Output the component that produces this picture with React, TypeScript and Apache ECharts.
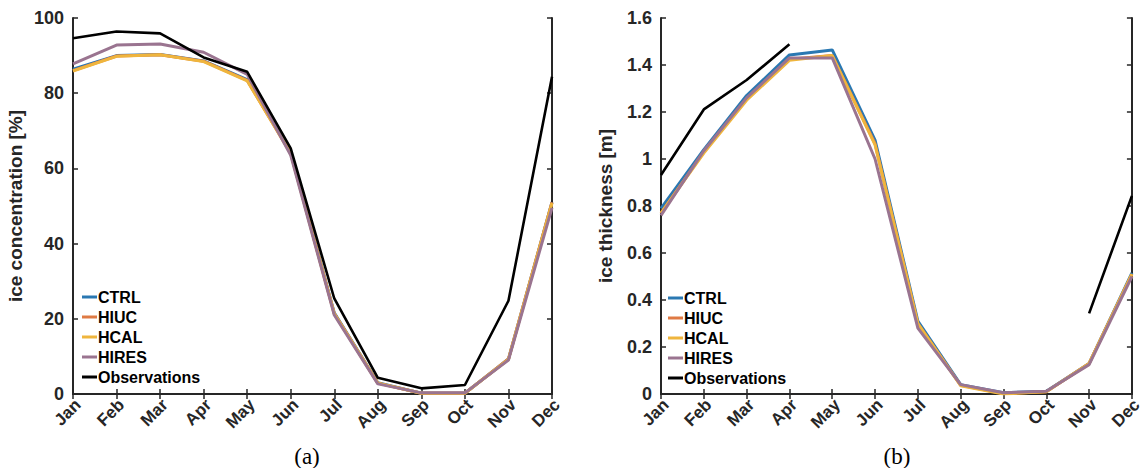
import React, { useEffect, useRef } from "react";
import * as echarts from "echarts";

const months = ["Jan", "Feb", "Mar", "Apr", "May", "Jun", "Jul", "Aug", "Sep", "Oct", "Nov", "Dec"];
const seriesNames = ["CTRL", "HIUC", "HCAL", "HIRES", "Observations"];
const seriesColors = ["#2a78b2", "#df7a44", "#efb53d", "#9a7490", "#000000"];

// (a) ice concentration [%]
const concCTRL = [86.4, 90.0, 90.3, 88.6, 83.6, 64.2, 21.6, 3.0, 0.2, 0.2, 9.3, 51.0];
const concHIUC = [86.0, 89.9, 90.2, 88.5, 83.4, 64.0, 21.4, 2.9, 0.2, 0.2, 9.3, 51.0];
const concHCAL = [85.9, 89.8, 90.2, 88.4, 83.3, 64.0, 21.3, 2.9, 0.2, 0.2, 9.2, 50.8];
const concHIRES = [87.8, 92.8, 93.1, 90.9, 85.0, 63.5, 21.0, 2.7, 0.3, 0.3, 9.0, 49.5];
const concObs = [94.6, 96.4, 95.9, 89.5, 85.7, 65.3, 25.4, 4.3, 1.5, 2.4, 24.8, 84.4];

// (b) ice thickness [m]
const thickCTRL = [0.79, 1.04, 1.27, 1.443, 1.464, 1.08, 0.31, 0.04, 0.005, 0.012, 0.13, 0.515];
const thickHIUC = [0.77, 1.03, 1.255, 1.425, 1.44, 1.065, 0.30, 0.037, 0.002, 0.01, 0.13, 0.51];
const thickHCAL = [0.77, 1.025, 1.25, 1.42, 1.44, 1.06, 0.30, 0.035, 0.0, 0.01, 0.13, 0.51];
const thickHIRES = [0.76, 1.035, 1.26, 1.43, 1.43, 1.0, 0.28, 0.04, 0.005, 0.012, 0.125, 0.50];
const thickObs = [0.932, 1.211, 1.336, 1.488, null, null, null, null, null, null, 0.343, 0.843];

const axisColor = "#262626";
const fontFamily = "Liberation Sans";

export default function App() {
  const ref = useRef<HTMLDivElement>(null);
  useEffect(() => {
    if (!ref.current) return;
    const chart = echarts.init(ref.current, null, { renderer: "svg" });

    const grids = [
      { left: 73, top: 18, width: 479, height: 376 },
      { left: 661, top: 18, width: 477, height: 376 },
    ];

    const xAxes: any[] = [];
    const yAxes: any[] = [];
    const yDefs = [
      { min: 0, max: 100, interval: 20, name: "ice concentration [%]", nameGap: 48 },
      { min: 0, max: 1.6, interval: 0.2, name: "ice thickness [m]", nameGap: 46 },
    ];
    [0, 1].forEach((g) => {
      xAxes.push({
        type: "category",
        gridIndex: g,
        data: months,
        boundaryGap: false,
        position: "bottom",
        axisLine: { lineStyle: { color: axisColor, width: 2 } },
        axisTick: { inside: true, length: 5, lineStyle: { color: axisColor, width: 1.5 }, alignWithLabel: true },
        axisLabel: {
          fontFamily,
          fontWeight: "bold",
          fontSize: 17,
          color: axisColor,
          rotate: 45,
          margin: 13,
          interval: 0,
          padding: [14, -7, 0, 0],
        },
        splitLine: { show: false },
      });
      xAxes.push({
        type: "category",
        gridIndex: g,
        data: months,
        boundaryGap: false,
        position: "top",
        axisLine: { lineStyle: { color: axisColor, width: 2 } },
        axisTick: { inside: true, length: 5, lineStyle: { color: axisColor, width: 1.5 } },
        axisLabel: { show: false },
        splitLine: { show: false },
      });
      const d = yDefs[g];
      yAxes.push({
        type: "value",
        gridIndex: g,
        min: d.min,
        max: d.max,
        interval: d.interval,
        position: "left",
        name: d.name,
        nameLocation: "middle",
        nameGap: d.nameGap,
        nameRotate: 90,
        nameTextStyle: { fontFamily, fontWeight: "bold", fontSize: 19, color: axisColor },
        axisLine: { show: true, lineStyle: { color: axisColor, width: 2 } },
        axisTick: { show: true, inside: true, length: 5, lineStyle: { color: axisColor, width: 1.5 } },
        axisLabel: { fontFamily, fontWeight: "bold", fontSize: 18, color: axisColor, margin: 9 },
        splitLine: { show: false },
      });
      yAxes.push({
        type: "value",
        gridIndex: g,
        min: d.min,
        max: d.max,
        interval: d.interval,
        position: "right",
        axisLine: { show: true, lineStyle: { color: axisColor, width: 2 } },
        axisTick: { show: true, inside: true, length: 5, lineStyle: { color: axisColor, width: 1.5 } },
        axisLabel: { show: false },
        splitLine: { show: false },
      });
    });

    const panelData = [
      [concCTRL, concHIUC, concHCAL, concHIRES, concObs],
      [thickCTRL, thickHIUC, thickHCAL, thickHIRES, thickObs],
    ];
    const series: any[] = [];
    [0, 1].forEach((g) => {
      panelData[g].forEach((vals, i) => {
        series.push({
          type: "line",
          name: seriesNames[i],
          xAxisIndex: g * 2,
          yAxisIndex: g * 2,
          data: vals,
          symbol: "none",
          connectNulls: false,
          lineStyle: { color: seriesColors[i], width: i === 4 ? 2.6 : 3 },
          itemStyle: { color: seriesColors[i] },
          z: 2 + i,
        });
      });
    });

    const legendBase = {
      orient: "vertical",
      icon: "rect",
      itemWidth: 15,
      itemHeight: 3,
      itemGap: 4,
      padding: 0,
      data: seriesNames,
      textStyle: { fontFamily, fontWeight: "bold", fontSize: 16, color: "#000", lineHeight: 16, padding: [0, 0, 0, -4] },
      selectedMode: false,
    };

    chart.setOption({
      animation: false,
      backgroundColor: "#ffffff",
      grid: grids,
      xAxis: xAxes,
      yAxis: yAxes,
      series,
      legend: [
        { ...legendBase, left: 82, top: 289 },
        { ...legendBase, left: 668, top: 290 },
      ],
      graphic: [
        {
          type: "text",
          x: 307,
          y: 456,
          style: { text: "(a)", font: "23px 'Liberation Serif'", fill: "#000", align: "center", verticalAlign: "middle" },
        },
        {
          type: "text",
          x: 897,
          y: 456,
          style: { text: "(b)", font: "23px 'Liberation Serif'", fill: "#000", align: "center", verticalAlign: "middle" },
        },
      ],
    });
    return () => chart.dispose();
  }, []);
  return <div ref={ref} style={{ position: "fixed", left: 0, top: 0, width: 1145, height: 468 }} />;
}
